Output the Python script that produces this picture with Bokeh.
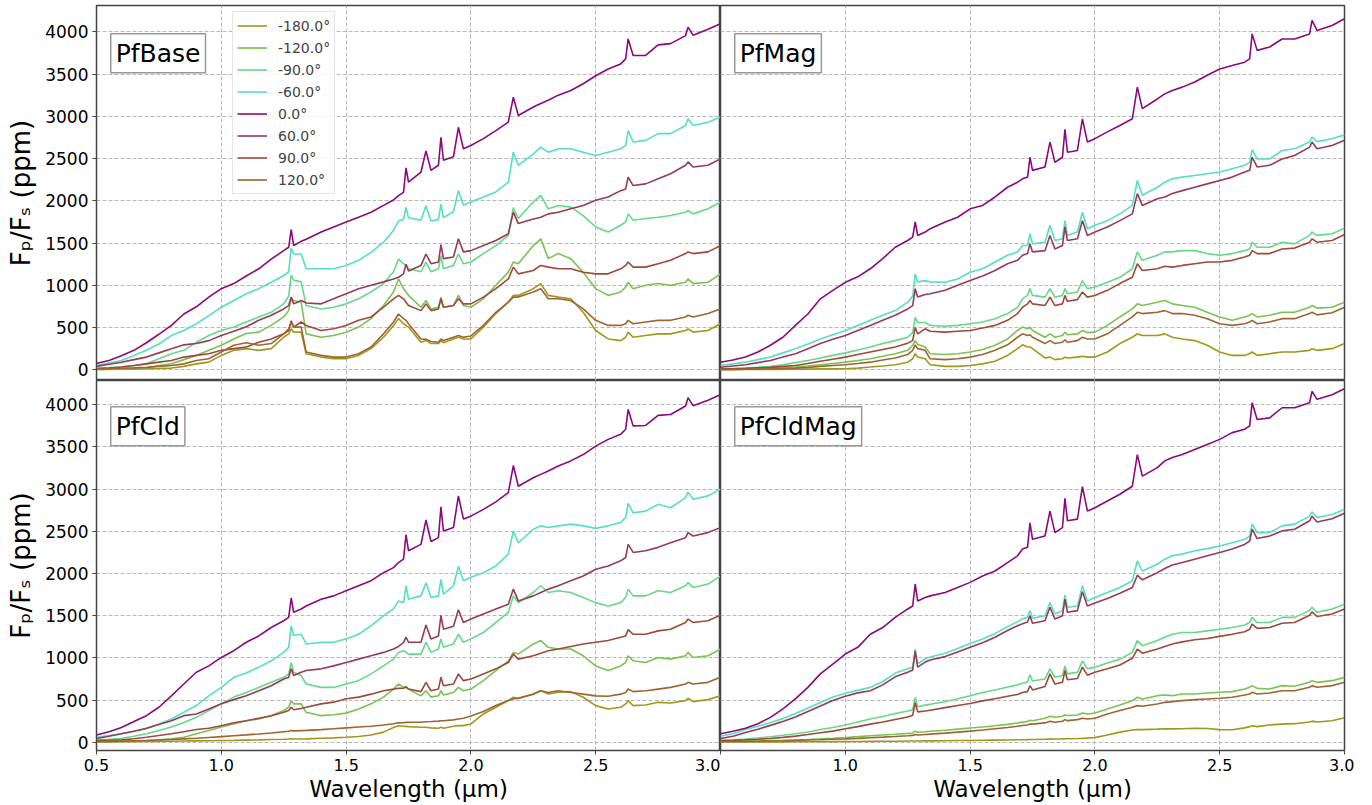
from bokeh.plotting import figure
from bokeh.layouts import column, row
from bokeh.models import Range1d, FixedTicker, Legend, LegendItem, Label, NumeralTickFormatter
from bokeh.embed import file_html
from bokeh.resources import INLINE

# ---------------- data ----------------
wavelength = [0.50, 0.55, 0.60, 0.65, 0.70, 0.75, 0.80, 0.85, 0.90, 0.95,
              1.00, 1.05, 1.10, 1.15, 1.20, 1.25, 1.27, 1.28, 1.29, 1.32,
              1.34, 1.40, 1.45, 1.50, 1.55, 1.60, 1.65, 1.69, 1.71, 1.73,
              1.74, 1.75, 1.80, 1.82, 1.84, 1.87, 1.88, 1.89, 1.93, 1.95,
              1.97, 2.00, 2.05, 2.10, 2.15, 2.17, 2.19, 2.25, 2.28, 2.31,
              2.35, 2.40, 2.45, 2.50, 2.55, 2.60, 2.62, 2.63, 2.65, 2.70,
              2.75, 2.80, 2.86, 2.87, 2.89, 2.95, 3.00]

angle_labels = ["-180.0°", "-120.0°", "-90.0°", "-60.0°", "0.0°", "60.0°", "90.0°", "120.0°"]
line_colors = ["#a0981a", "#7ac352", "#66d88a", "#55e0c0", "#8a0a7c", "#973c52", "#9c4a3a", "#9e6534"]
panel_names = ["PfBase", "PfMag", "PfCld", "PfCldMag"]
x_ticks = [0.5, 1.0, 1.5, 2.0, 2.5, 3.0]
y_ticks = [0, 500, 1000, 1500, 2000, 2500, 3000, 3500, 4000]

# PfBase
pfbase_m180 = [3, 4, 6, 8, 12, 15, 20, 40, 70, 90,
               170, 230, 250, 230, 250, 385, 425, 485, 445, 445,
               190, 150, 130, 130, 170, 250, 385, 525, 605, 545,
               525, 505, 325, 345, 310, 310, 345, 320, 365, 385,
               365, 365, 505, 665, 800, 880, 880, 960, 1020, 880,
               860, 840, 680, 465, 365, 345, 385, 445, 385, 405,
               425, 425, 465, 485, 445, 465, 545]
pfbase_m120 = [5, 8, 12, 16, 20, 50, 70, 120, 170, 230,
               290, 365, 430, 445, 525, 625, 700, 840, 820, 800,
               425, 385, 405, 445, 505, 605, 760, 920, 1075, 960,
               920, 880, 740, 820, 720, 740, 860, 740, 760, 880,
               760, 740, 840, 1000, 1155, 1275, 1255, 1470, 1550, 1315,
               1375, 1315, 1155, 960, 880, 920, 980, 1035, 960, 1000,
               1020, 1000, 1035, 1075, 1020, 1035, 1135]
pfbase_m90 = [20, 25, 32, 50, 70, 130, 190, 230, 325, 405,
              465, 505, 565, 625, 680, 780, 870, 1120, 1060, 1040,
              760, 720, 740, 780, 840, 920, 1020, 1160, 1310, 1255,
              1235, 1195, 1160, 1275, 1160, 1195, 1350, 1195, 1235, 1370,
              1255, 1275, 1375, 1470, 1590, 1920, 1790, 1985, 2065, 1905,
              1945, 1925, 1825, 1690, 1630, 1710, 1750, 1845, 1770, 1790,
              1805, 1825, 1865, 1885, 1845, 1905, 1985]
pfbase_m60 = [50, 80, 110, 170, 230, 305, 405, 465, 545, 640,
              740, 820, 900, 960, 1035, 1115, 1160, 1440, 1370, 1370,
              1195, 1195, 1195, 1235, 1295, 1390, 1510, 1650, 1760, 1780,
              1920, 1800, 1770, 1940, 1760, 1780, 1960, 1800, 1870, 2120,
              1950, 1985, 2045, 2105, 2220, 2575, 2420, 2555, 2635, 2575,
              2615, 2615, 2575, 2535, 2575, 2615, 2655, 2830, 2695, 2715,
              2795, 2795, 2890, 2970, 2890, 2930, 2990]
pfbase_0 = [75, 110, 165, 230, 320, 420, 525, 660, 745, 860,
            960, 1020, 1110, 1195, 1310, 1410, 1450, 1660, 1470, 1520,
            1545, 1630, 1690, 1750, 1805, 1865, 1945, 2010, 2060, 2100,
            2390, 2220, 2340, 2590, 2360, 2420, 2750, 2480, 2520, 2870,
            2615, 2655, 2735, 2830, 2930, 3225, 3010, 3110, 3150, 3190,
            3250, 3305, 3385, 3480, 3560, 3620, 3680, 3915, 3720, 3720,
            3845, 3860, 3955, 4055, 3960, 4030, 4095]
pfbase_60 = [40, 65, 90, 120, 150, 200, 250, 295, 310, 345,
             405, 455, 510, 585, 645, 720, 760, 860, 780, 820,
             790, 780, 840, 900, 960, 1000, 1040, 1075, 1095, 1135,
             1250, 1170, 1235, 1370, 1255, 1275, 1480, 1315, 1335, 1550,
             1395, 1410, 1470, 1530, 1610, 1865, 1730, 1785, 1805, 1845,
             1865, 1905, 1945, 2005, 2045, 2120, 2140, 2280, 2180, 2200,
             2260, 2320, 2420, 2460, 2400, 2420, 2495]
pfbase_90 = [12, 20, 32, 50, 70, 90, 110, 150, 170, 190,
             230, 250, 270, 325, 365, 425, 465, 580, 505, 565,
             525, 465, 485, 525, 585, 625, 740, 840, 880, 840,
             800, 760, 700, 780, 700, 720, 840, 740, 760, 840,
             780, 780, 860, 960, 1075, 1215, 1135, 1175, 1235, 1215,
             1195, 1195, 1155, 1135, 1135, 1195, 1235, 1275, 1215, 1215,
             1255, 1295, 1375, 1395, 1375, 1395, 1470]
pfbase_120 = [10, 14, 18, 22, 28, 40, 50, 70, 110, 130,
              210, 290, 320, 290, 310, 425, 485, 560, 505, 505,
              210, 170, 150, 150, 190, 270, 425, 565, 660, 605,
              585, 545, 365, 360, 335, 325, 365, 345, 385, 405,
              385, 400, 525, 680, 800, 860, 860, 920, 960, 840,
              840, 820, 720, 585, 525, 525, 545, 585, 545, 565,
              585, 585, 625, 645, 625, 665, 720]

# PfMag
pfmag_m180 = [2, 2, 3, 3, 4, 5, 6, 8, 10, 11,
              12, 20, 32, 45, 60, 90, 130, 190, 150, 130,
              60, 40, 40, 50, 70, 100, 170, 250, 295, 270,
              270, 250, 140, 150, 120, 130, 150, 140, 150, 160,
              150, 150, 210, 310, 385, 425, 405, 405, 425, 385,
              365, 345, 290, 210, 170, 170, 190, 210, 170, 190,
              210, 210, 230, 250, 230, 250, 310]
pfmag_m120 = [4, 6, 8, 12, 16, 24, 32, 45, 60, 75,
              90, 110, 130, 160, 190, 230, 290, 345, 300, 270,
              190, 180, 190, 210, 240, 290, 365, 465, 505, 485,
              505, 465, 385, 425, 385, 405, 445, 415, 425, 465,
              440, 445, 525, 625, 720, 780, 760, 800, 820, 780,
              760, 740, 680, 625, 585, 625, 645, 665, 625, 645,
              680, 680, 740, 760, 730, 740, 800]
pfmag_m90 = [12, 15, 20, 28, 40, 60, 85, 110, 140, 170,
             200, 235, 270, 310, 345, 385, 440, 620, 560, 560,
             525, 515, 525, 545, 565, 605, 665, 740, 840, 880,
             960, 880, 860, 960, 860, 880, 960, 900, 920, 1055,
             960, 980, 1035, 1095, 1195, 1395, 1295, 1355, 1395, 1395,
             1410, 1410, 1375, 1355, 1375, 1410, 1430, 1510, 1450, 1450,
             1510, 1490, 1590, 1630, 1590, 1610, 1675]
pfmag_m60 = [50, 70, 90, 120, 150, 200, 250, 305, 365, 415,
             465, 525, 585, 645, 700, 800, 870, 1135, 1040, 1055,
             1040, 1035, 1075, 1155, 1195, 1275, 1355, 1395, 1470, 1470,
             1610, 1490, 1510, 1710, 1530, 1550, 1765, 1590, 1630, 1865,
             1670, 1710, 1765, 1845, 1945, 2240, 2065, 2160, 2220, 2260,
             2280, 2300, 2320, 2340, 2380, 2420, 2455, 2605, 2495, 2495,
             2595, 2615, 2695, 2755, 2700, 2735, 2780]
pfmag_0 = [90, 115, 150, 210, 290, 385, 525, 660, 840, 940,
           1035, 1100, 1195, 1315, 1450, 1530, 1570, 1750, 1590, 1630,
           1670, 1750, 1805, 1905, 1945, 2045, 2160, 2220, 2260, 2280,
           2515, 2360, 2400, 2695, 2455, 2515, 2845, 2575, 2595, 2970,
           2695, 2735, 2815, 2890, 2970, 3345, 3090, 3205, 3265, 3305,
           3345, 3405, 3485, 3560, 3600, 3640, 3680, 3975, 3780, 3820,
           3915, 3915, 3975, 4135, 4015, 4075, 4155]
pfmag_60 = [30, 45, 60, 85, 110, 150, 190, 250, 310, 360,
            405, 465, 525, 585, 645, 720, 760, 960, 860, 890,
            900, 940, 1000, 1055, 1110, 1175, 1255, 1295, 1355, 1375,
            1490, 1395, 1410, 1590, 1430, 1470, 1690, 1530, 1550, 1765,
            1590, 1630, 1690, 1765, 1845, 2085, 1945, 2025, 2045, 2085,
            2120, 2160, 2200, 2240, 2280, 2340, 2360, 2515, 2400, 2420,
            2495, 2535, 2635, 2695, 2615, 2655, 2715]
pfmag_90 = [10, 12, 16, 22, 28, 40, 50, 75, 100, 125,
            150, 180, 210, 240, 270, 315, 345, 500, 425, 485,
            455, 445, 455, 465, 495, 525, 585, 665, 740, 780,
            820, 780, 760, 860, 760, 780, 880, 810, 830, 920,
            860, 880, 940, 1020, 1095, 1255, 1175, 1195, 1225, 1215,
            1235, 1255, 1275, 1275, 1295, 1335, 1355, 1410, 1375, 1375,
            1430, 1440, 1510, 1550, 1510, 1530, 1600]
pfmag_120 = [3, 4, 6, 8, 10, 15, 20, 28, 40, 50,
             60, 75, 90, 115, 140, 180, 230, 295, 250, 230,
             130, 120, 130, 150, 180, 230, 295, 385, 425, 405,
             415, 385, 310, 345, 310, 325, 355, 325, 345, 385,
             365, 365, 425, 525, 625, 680, 665, 680, 700, 665,
             665, 645, 605, 545, 525, 545, 565, 585, 545, 565,
             605, 605, 665, 680, 650, 675, 740]

# PfCld
pfcld_m180 = [3, 4, 5, 6, 8, 10, 12, 14, 16, 18,
              20, 22, 25, 28, 32, 36, 38, 40, 38, 39,
              40, 47, 52, 59, 68, 85, 120, 175, 195, 190,
              188, 185, 178, 178, 170, 166, 178, 166, 189, 197,
              197, 217, 335, 414, 493, 533, 521, 572, 611, 572,
              592, 600, 533, 434, 394, 414, 454, 493, 434, 442,
              473, 465, 493, 521, 481, 505, 552]
pfcld_m120 = [8, 10, 12, 16, 20, 28, 40, 60, 100, 140,
              180, 215, 255, 275, 315, 375, 415, 490, 455, 455,
              355, 315, 325, 345, 395, 455, 535, 630, 690, 650,
              650, 630, 550, 610, 535, 550, 610, 560, 590, 650,
              610, 630, 730, 850, 965, 1065, 1045, 1165, 1205, 1125,
              1105, 1105, 1025, 905, 850, 905, 945, 1025, 965, 945,
              1005, 985, 1025, 1065, 1005, 1025, 1105]
pfcld_m90 = [28, 35, 47, 70, 100, 140, 180, 235, 295, 375,
             455, 535, 590, 650, 710, 770, 810, 945, 830, 790,
             690, 650, 650, 690, 730, 810, 905, 985, 1065, 1085,
             1065, 1045, 1045, 1185, 1065, 1105, 1225, 1125, 1165, 1280,
             1185, 1225, 1300, 1420, 1540, 1735, 1655, 1775, 1855, 1775,
             1795, 1775, 1715, 1655, 1615, 1655, 1715, 1815, 1735, 1735,
             1795, 1775, 1855, 1895, 1835, 1875, 1970]
pfcld_m60 = [60, 80, 100, 130, 160, 215, 275, 355, 435, 550,
             650, 770, 820, 890, 965, 1065, 1125, 1380, 1265, 1280,
             1165, 1185, 1185, 1225, 1280, 1380, 1500, 1580, 1675, 1655,
             1855, 1695, 1735, 1890, 1715, 1735, 1930, 1755, 1855, 2085,
             1915, 1955, 2010, 2090, 2230, 2505, 2365, 2525, 2565, 2545,
             2565, 2585, 2565, 2535, 2565, 2605, 2665, 2830, 2720, 2740,
             2820, 2780, 2900, 2965, 2880, 2920, 3000]
pfcld_0 = [85, 125, 175, 245, 315, 415, 550, 690, 830, 905,
           1005, 1085, 1185, 1260, 1360, 1440, 1480, 1710, 1540, 1580,
           1615, 1695, 1735, 1795, 1855, 1915, 2010, 2070, 2130, 2170,
           2460, 2270, 2345, 2635, 2380, 2425, 2790, 2505, 2545, 2920,
           2645, 2680, 2760, 2850, 2960, 3280, 3035, 3135, 3175, 3215,
           3275, 3335, 3410, 3510, 3590, 3650, 3710, 3945, 3750, 3755,
           3875, 3885, 3985, 4085, 3990, 4055, 4120]
pfcld_60 = [45, 70, 100, 130, 165, 210, 255, 315, 335, 395,
            455, 505, 550, 610, 670, 750, 770, 870, 790, 830,
            850, 870, 905, 945, 985, 1025, 1065, 1105, 1135, 1180,
            1245, 1185, 1185, 1390, 1225, 1260, 1505, 1340, 1375, 1570,
            1420, 1460, 1520, 1580, 1635, 1815, 1675, 1735, 1775, 1815,
            1855, 1915, 1970, 2050, 2090, 2150, 2190, 2345, 2250, 2270,
            2310, 2365, 2425, 2485, 2445, 2485, 2545]
pfcld_90 = [20, 24, 28, 42, 60, 80, 100, 125, 150, 165,
            195, 230, 255, 285, 315, 355, 375, 415, 385, 400,
            415, 455, 475, 515, 535, 570, 610, 630, 640, 640,
            660, 630, 600, 710, 610, 630, 770, 670, 690, 810,
            730, 750, 810, 870, 945, 1045, 985, 1025, 1055, 1085,
            1105, 1135, 1165, 1185, 1205, 1245, 1260, 1335, 1280, 1280,
            1320, 1340, 1420, 1460, 1420, 1440, 1505]
pfcld_120 = [8, 10, 12, 16, 20, 26, 32, 40, 47, 57,
             67, 77, 87, 98, 110, 125, 130, 138, 135, 138,
             140, 150, 160, 170, 180, 190, 205, 220, 230, 232,
             235, 237, 237, 242, 245, 250, 255, 255, 265, 275,
             285, 310, 365, 435, 495, 515, 520, 570, 610, 590,
             610, 590, 570, 550, 545, 570, 590, 630, 600, 610,
             630, 650, 690, 710, 690, 710, 770]

# PfCldMag
pfcldmag_m180 = [2, 2, 3, 3, 4, 4, 5, 5, 6, 7,
                 8, 9, 10, 11, 12, 14, 14, 15, 15, 16,
                 16, 18, 20, 21, 23, 25, 27, 29, 30, 31,
                 32, 32, 36, 37, 38, 40, 41, 41, 44, 46,
                 50, 55, 85, 120, 145, 150, 150, 155, 160, 158,
                 160, 165, 162, 150, 148, 170, 185, 195, 185, 205,
                 215, 220, 240, 250, 240, 255, 290]
pfcldmag_m120 = [8, 10, 12, 15, 18, 22, 27, 33, 40, 48,
                 57, 66, 76, 86, 95, 105, 110, 130, 118, 125,
                 130, 142, 155, 168, 180, 195, 212, 228, 238, 245,
                 260, 255, 284, 308, 296, 308, 323, 316, 323, 347,
                 335, 347, 394, 442, 493, 533, 513, 552, 560, 552,
                 572, 572, 584, 592, 600, 631, 651, 671, 639, 631,
                 671, 663, 710, 730, 710, 730, 769]
pfcldmag_m90 = [25, 30, 38, 50, 65, 82, 100, 122, 150, 175,
                205, 240, 275, 305, 340, 370, 385, 530, 420, 440,
                450, 480, 515, 550, 590, 620, 655, 680, 700, 715,
                800, 725, 750, 870, 770, 790, 905, 810, 830, 965,
                870, 890, 940, 985, 1065, 1205, 1145, 1205, 1245, 1280,
                1300, 1300, 1320, 1340, 1360, 1390, 1420, 1480, 1420, 1420,
                1480, 1480, 1560, 1600, 1540, 1580, 1635]
pfcldmag_m60 = [70, 100, 150, 190, 235, 280, 340, 405, 470, 535,
                580, 615, 650, 720, 820, 870, 890, 1105, 930, 990,
                1010, 1055, 1110, 1170, 1225, 1290, 1370, 1430, 1460, 1480,
                1560, 1470, 1500, 1655, 1520, 1560, 1745, 1600, 1615, 1855,
                1675, 1715, 1775, 1835, 1915, 2150, 2030, 2110, 2170, 2210,
                2230, 2270, 2295, 2325, 2365, 2405, 2445, 2585, 2485, 2485,
                2565, 2585, 2680, 2730, 2665, 2700, 2760]
pfcldmag_0 = [100, 130, 165, 220, 295, 395, 515, 650, 810, 925,
              1045, 1125, 1280, 1360, 1480, 1580, 1615, 1875, 1675, 1715,
              1735, 1775, 1835, 1895, 1970, 2030, 2130, 2210, 2290, 2310,
              2600, 2405, 2445, 2740, 2485, 2545, 2890, 2625, 2645, 3030,
              2740, 2780, 2860, 2940, 3035, 3410, 3155, 3255, 3335, 3375,
              3410, 3470, 3530, 3590, 3670, 3710, 3750, 4025, 3825, 3845,
              3965, 3965, 4025, 4160, 4065, 4120, 4190]
pfcldmag_60 = [45, 70, 115, 155, 200, 245, 300, 365, 430, 495,
               545, 585, 610, 680, 775, 830, 855, 1080, 890, 950,
               975, 1015, 1070, 1125, 1180, 1245, 1325, 1380, 1405, 1425,
               1500, 1410, 1440, 1600, 1460, 1500, 1695, 1540, 1560, 1785,
               1615, 1650, 1705, 1765, 1835, 1980, 1925, 2010, 2060, 2100,
               2130, 2170, 2210, 2250, 2290, 2345, 2385, 2525, 2415, 2445,
               2505, 2525, 2625, 2680, 2610, 2650, 2715]
pfcldmag_90 = [18, 22, 28, 35, 45, 58, 72, 92, 112, 132,
               160, 185, 215, 240, 270, 300, 320, 470, 360, 370,
               380, 410, 435, 460, 490, 515, 545, 565, 590, 600,
               670, 620, 660, 810, 690, 710, 850, 740, 755, 890,
               795, 830, 870, 915, 995, 1105, 1055, 1105, 1135, 1165,
               1190, 1215, 1230, 1255, 1280, 1310, 1340, 1400, 1350, 1360,
               1410, 1420, 1505, 1545, 1490, 1520, 1580]
pfcldmag_120 = [6, 8, 10, 12, 15, 18, 22, 26, 30, 35,
                40, 46, 53, 60, 68, 77, 81, 92, 85, 92,
                96, 108, 120, 132, 145, 160, 175, 190, 198, 205,
                215, 215, 229, 249, 237, 249, 268, 256, 268, 284,
                276, 284, 335, 375, 414, 434, 426, 454, 473, 481,
                493, 505, 513, 521, 533, 560, 572, 592, 572, 584,
                611, 611, 651, 671, 651, 671, 710]

panel_series = {
    "PfBase": [pfbase_m180, pfbase_m120, pfbase_m90, pfbase_m60, pfbase_0, pfbase_60, pfbase_90, pfbase_120],
    "PfMag": [pfmag_m180, pfmag_m120, pfmag_m90, pfmag_m60, pfmag_0, pfmag_60, pfmag_90, pfmag_120],
    "PfCld": [pfcld_m180, pfcld_m120, pfcld_m90, pfcld_m60, pfcld_0, pfcld_60, pfcld_90, pfcld_120],
    "PfCldMag": [pfcldmag_m180, pfcldmag_m120, pfcldmag_m90, pfcldmag_m60, pfcldmag_0, pfcldmag_60, pfcldmag_90, pfcldmag_120],
}

FONT = "DejaVu Sans"
FRAME_W = 624
LEFT_AXIS_W = 96
RIGHT_PAD = 10
TOP_PAD = 5
TOP_FRAME_H = 375
BOT_FRAME_H = 370
BOT_AXIS_H = 54


def make_panel(name, left, bottom, legend=False):
    width = (LEFT_AXIS_W if left else 0) + FRAME_W + (0 if left else RIGHT_PAD)
    height = (BOT_FRAME_H + BOT_AXIS_H) if bottom else (TOP_PAD + TOP_FRAME_H)
    yr = Range1d(-98, 4288) if bottom else Range1d(-127, 4311)
    p = figure(width=width, height=height, x_range=Range1d(0.5, 3.0), y_range=yr,
               output_backend="svg", toolbar_location=None,
               min_border_left=LEFT_AXIS_W if left else 0,
               min_border_right=0 if left else RIGHT_PAD,
               min_border_top=0 if bottom else TOP_PAD,
               min_border_bottom=BOT_AXIS_H if bottom else 0)
    p.background_fill_color = "white"
    p.border_fill_color = "white"
    p.outline_line_color = "#444444"
    p.outline_line_width = 1.5

    p.xaxis.ticker = FixedTicker(ticks=x_ticks)
    p.yaxis.ticker = FixedTicker(ticks=y_ticks)
    p.xaxis.formatter = NumeralTickFormatter(format="0.0")
    p.xgrid.ticker = FixedTicker(ticks=x_ticks)
    p.ygrid.ticker = FixedTicker(ticks=y_ticks)
    for g in (p.xgrid, p.ygrid):
        g.grid_line_color = "#b8b8b8"
        g.grid_line_dash = "4 2"
        g.grid_line_width = 1

    for ax in (p.xaxis, p.yaxis):
        ax.axis_line_color = "#444444"
        ax.major_tick_line_color = "#444444"
        ax.major_tick_out = 4
        ax.major_tick_in = 0
        ax.minor_tick_line_color = None
        ax.major_label_text_font = FONT
        ax.major_label_text_color = "black"
        ax.axis_label_text_font = FONT
        ax.axis_label_text_font_style = "normal"
        ax.axis_label_text_color = "black"
    p.xaxis.major_label_text_font_size = "16px"
    p.yaxis.major_label_text_font_size = "17px"

    if bottom:
        p.xaxis.axis_label = "Wavelength (µm)"
        p.xaxis.axis_label_text_font_size = "23px"
        p.xaxis.axis_label_standoff = 2
        p.xaxis.major_label_standoff = 4
        if not left:
            p.xaxis.major_label_overrides = {0.5: ""}
    else:
        p.xaxis.visible = False

    if left:
        p.yaxis.axis_label = "Fₚ/Fₛ (ppm)"
        p.yaxis.axis_label_text_font_size = "26px"
        p.yaxis.axis_label_standoff = 6
        p.yaxis.major_label_standoff = 4
    else:
        p.yaxis.visible = False

    renderers = []
    for values, color in zip(panel_series[name], line_colors):
        r = p.line(wavelength, values, line_color=color, line_width=1.6)
        renderers.append(r)

    p.add_layout(Label(x=0.557, y=3745, text=name, text_font=FONT, text_font_size="25px",
                       text_color="black", text_baseline="middle", text_align="left",
                       background_fill_color="white", background_fill_alpha=0.9,
                       border_line_color="#999999", border_line_width=1.5, padding=5))

    if legend:
        items = [LegendItem(label=lab, renderers=[r]) for lab, r in zip(angle_labels, renderers)]
        lg = Legend(items=items, location=(136, 186),
                    label_text_font=FONT, label_text_font_size="14px",
                    glyph_width=30, glyph_height=19, label_height=19,
                    label_standoff=11, spacing=3, padding=4, margin=0,
                    border_line_color="#cccccc", border_line_width=1,
                    background_fill_color="white", background_fill_alpha=0.85)
        p.add_layout(lg)
    return p


p1 = make_panel("PfBase", left=True, bottom=False, legend=True)
p2 = make_panel("PfMag", left=False, bottom=False)
p3 = make_panel("PfCld", left=True, bottom=True)
p4 = make_panel("PfCldMag", left=False, bottom=True)

layout = column(row(p1, p2), row(p3, p4))

open("out.html", "w").write(file_html(layout, INLINE))
